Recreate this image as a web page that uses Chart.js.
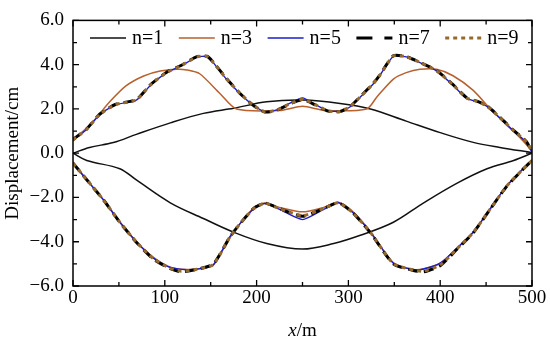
<!DOCTYPE html>
<html>
<head>
<meta charset="utf-8">
<script src="https://cdn.jsdelivr.net/npm/chart.js@4/dist/chart.umd.min.js"></script>
<style>
  html, body { margin: 0; padding: 0; background: #fff; }
  #wrap { width: 550px; height: 346px; }
</style>
</head>
<body>
<div id="wrap"><canvas id="myChart" width="550" height="346"></canvas></div>
<script>
// ---- data (x in m, displacement in cm) ----
const seriesNames = ['n=1', 'n=3', 'n=5', 'n=7', 'n=9'];

const n1UpperX = [0, 18, 44, 69, 106, 142, 175, 211, 250, 291, 324, 363, 400, 436, 465, 500];
const n1UpperY = [0, 0.26, 0.48, 0.85, 1.37, 1.8, 2.03, 2.32, 2.4, 2.25, 2.0, 1.45, 0.93, 0.49, 0.26, 0.03];
const n1LowerX = [0, 15, 51, 69, 106, 142, 175, 211, 250, 284, 313, 349, 382, 418, 451, 480, 500];
const n1LowerY = [0, -0.33, -0.7, -1.21, -2.24, -2.95, -3.57, -4.08, -4.33, -4.08, -3.71, -3.12, -2.24, -1.36, -0.7, -0.33, 0];

const n3UpperX = [0, 22, 40, 58, 77, 95, 113, 124, 138, 160, 178, 225, 250, 275, 320, 331, 349, 363, 378, 396, 414, 436, 454, 472, 487, 500];
const n3UpperY = [0.55, 1.44, 2.32, 3.05, 3.49, 3.71, 3.79, 3.76, 3.59, 2.7, 2.0, 1.93, 2.12, 1.93, 2.0, 2.54, 3.35, 3.64, 3.79, 3.79, 3.5, 2.84, 2.03, 1.29, 0.7, 0.1];
const n3LowerX = [0, 15, 33, 51, 69, 88, 106, 124, 142, 153, 172, 196, 209, 225, 250, 273, 289, 305, 324, 349, 371, 382, 400, 418, 436, 454, 472, 489, 500];
const n3LowerY = [-0.4, -1.2, -2.1, -3.1, -4.0, -4.72, -5.15, -5.25, -5.2, -5.05, -3.75, -2.5, -2.25, -2.45, -2.65, -2.45, -2.22, -2.65, -3.55, -4.95, -5.25, -5.22, -4.97, -4.3, -3.57, -2.54, -1.5, -0.76, -0.3];

const n5UpperX = [0, 15, 29, 46, 69, 84, 102, 117, 135, 146, 153, 167, 182, 196, 209, 222, 236, 250, 264, 278, 291, 302, 313, 327, 334, 349, 363, 378, 396, 414, 429, 440, 451, 465, 480, 494, 500];
const n5UpperY = [0.6, 1.08, 1.74, 2.18, 2.4, 3.05, 3.64, 3.93, 4.34, 4.37, 4.08, 3.35, 2.69, 2.18, 1.88, 1.96, 2.25, 2.5, 2.2, 1.92, 1.89, 2.1, 2.54, 3.13, 3.5, 4.38, 4.35, 4.09, 3.72, 3.07, 2.47, 2.33, 2.11, 1.59, 1.0, 0.49, 0.04];
const n5LowerX = [0, 15, 33, 51, 69, 88, 106, 124, 142, 153, 172, 196, 209, 225, 250, 273, 289, 305, 324, 349, 371, 382, 400, 418, 436, 454, 472, 489, 500];
const n5LowerY = [-0.47, -1.21, -2.1, -3.12, -4.0, -4.75, -5.16, -5.26, -5.19, -5.04, -3.7, -2.54, -2.27, -2.54, -3.0, -2.54, -2.24, -2.69, -3.57, -4.97, -5.26, -5.23, -4.97, -4.3, -3.57, -2.54, -1.5, -0.76, -0.33];

const n7UpperX = [0, 15, 29, 46, 69, 84, 102, 117, 135, 146, 153, 167, 182, 196, 209, 222, 236, 250, 264, 278, 291, 302, 313, 327, 334, 349, 363, 378, 396, 414, 429, 440, 451, 465, 480, 494, 500];
const n7UpperY = [0.62, 1.1, 1.76, 2.2, 2.42, 3.08, 3.66, 3.95, 4.36, 4.38, 4.1, 3.38, 2.7, 2.17, 1.86, 1.94, 2.22, 2.42, 2.18, 1.9, 1.88, 2.12, 2.56, 3.15, 3.52, 4.4, 4.36, 4.1, 3.74, 3.1, 2.5, 2.35, 2.14, 1.62, 1.03, 0.52, 0.06];
const n7LowerX = [0, 15, 33, 51, 69, 88, 106, 118, 135, 153, 172, 196, 209, 225, 250, 273, 289, 305, 324, 349, 371, 382, 400, 418, 436, 454, 472, 489, 500];
const n7LowerY = [-0.45, -1.2, -2.1, -3.12, -4.02, -4.8, -5.22, -5.36, -5.25, -5.0, -3.72, -2.52, -2.26, -2.5, -2.85, -2.5, -2.24, -2.7, -3.6, -5.0, -5.3, -5.36, -5.08, -4.35, -3.6, -2.56, -1.52, -0.78, -0.33];

const n9UpperX = [0, 15, 29, 46, 69, 84, 102, 117, 135, 146, 153, 167, 182, 196, 209, 222, 236, 250, 264, 278, 291, 302, 313, 327, 334, 349, 363, 378, 396, 414, 429, 440, 451, 465, 480, 494, 500];
const n9UpperY = [0.6, 1.09, 1.75, 2.19, 2.41, 3.07, 3.65, 3.94, 4.35, 4.37, 4.09, 3.37, 2.7, 2.18, 1.87, 1.95, 2.23, 2.44, 2.19, 1.91, 1.88, 2.11, 2.55, 3.14, 3.51, 4.39, 4.36, 4.1, 3.73, 3.09, 2.49, 2.34, 2.13, 1.61, 1.02, 0.51, 0.05];
const n9LowerX = [0, 15, 33, 51, 69, 88, 106, 118, 135, 153, 172, 196, 209, 225, 250, 273, 289, 305, 324, 349, 371, 382, 400, 418, 436, 454, 472, 489, 500];
const n9LowerY = [-0.46, -1.2, -2.1, -3.12, -4.01, -4.78, -5.2, -5.33, -5.24, -5.02, -3.71, -2.53, -2.26, -2.5, -2.82, -2.5, -2.24, -2.7, -3.58, -4.99, -5.28, -5.33, -5.05, -4.33, -3.58, -2.55, -1.51, -0.77, -0.33];

const yTicks = [-6, -4, -2, 0, 2, 4, 6];
const xTicks = [0, 100, 200, 300, 400, 500];

// ---- styling ----
const SERIES_COLORS = ['#111111', '#b8602e', '#1c1ccc', '#000000', '#93692e'];
const SERIES_WIDTHS = [1.5, 1.5, 1.4, 3, 3];
const SERIES_DASH = [[], [], [], [10, 6], [4, 4]];
const SERIES_TENSION = [0.35, 0.25, 0.2, 0.2, 0.2];
const FONT = "'Liberation Serif', 'Times New Roman', serif";

function toPoints(ux, uy, lx, ly) {
    const pts = ux.map((x, i) => ({ x: x, y: uy[i] }));
    pts.push({ x: 250, y: null });
    lx.forEach((x, i) => pts.push({ x: x, y: ly[i] }));
    return pts;
}

const seriesData = [
    toPoints(n1UpperX, n1UpperY, n1LowerX, n1LowerY),
    toPoints(n3UpperX, n3UpperY, n3LowerX, n3LowerY),
    toPoints(n5UpperX, n5UpperY, n5LowerX, n5LowerY),
    toPoints(n7UpperX, n7UpperY, n7LowerX, n7LowerY),
    toPoints(n9UpperX, n9UpperY, n9LowerX, n9LowerY)
];

function fmtY(v) {
    return v.toFixed(1).replace('-', '\u2212');
}

// frame + inward ticks on all four sides, axis titles, legend
const framePlugin = {
    id: 'frame',
    afterDraw(chart) {
        const ctx = chart.ctx;
        const a = chart.chartArea;
        const xs = chart.scales.x;
        const ys = chart.scales.y;
        ctx.save();
        ctx.strokeStyle = '#000';
        ctx.lineWidth = 1.5;
        ctx.strokeRect(a.left, a.top, a.right - a.left, a.bottom - a.top);

        ctx.lineWidth = 1.3;
        ctx.beginPath();
        for (let v = 0; v <= 500; v += 50) {
            const px = xs.getPixelForValue(v);
            const len = v % 100 === 0 ? 6 : 4;
            ctx.moveTo(px, a.bottom); ctx.lineTo(px, a.bottom - len);
            ctx.moveTo(px, a.top); ctx.lineTo(px, a.top + len);
        }
        for (let v = -6; v <= 6; v += 1) {
            const py = ys.getPixelForValue(v);
            const len = v % 2 === 0 ? 6 : 4;
            ctx.moveTo(a.left, py); ctx.lineTo(a.left + len, py);
            ctx.moveTo(a.right, py); ctx.lineTo(a.right - len, py);
        }
        ctx.stroke();

        // axis titles
        ctx.fillStyle = '#000';
        ctx.textBaseline = 'middle';
        ctx.font = 'italic 19px ' + FONT;
        const w1 = ctx.measureText('x').width;
        ctx.font = '19px ' + FONT;
        const w2 = ctx.measureText('/m').width;
        const cx = (a.left + a.right) / 2;
        let sx = cx - (w1 + w2) / 2;
        ctx.textAlign = 'left';
        ctx.font = 'italic 19px ' + FONT;
        ctx.fillText('x', sx, 331);
        ctx.font = '19px ' + FONT;
        ctx.fillText('/m', sx + w1, 331);

        ctx.save();
        ctx.translate(13, (a.top + a.bottom) / 2);
        ctx.rotate(-Math.PI / 2);
        ctx.textAlign = 'center';
        ctx.fillText('Displacement/cm', 0, 0);
        ctx.restore();

        // legend
        ctx.font = '20px ' + FONT;
        ctx.textAlign = 'left';
        const ly = 38;
        seriesNames.forEach((name, i) => {
            const lx = 90 + i * 88.8;
            ctx.beginPath();
            ctx.strokeStyle = SERIES_COLORS[i];
            ctx.lineWidth = SERIES_WIDTHS[i];
            ctx.setLineDash(i === 3 ? [16, 12] : SERIES_DASH[i]);
            ctx.moveTo(lx, ly);
            ctx.lineTo(lx + 36, ly);
            ctx.stroke();
            ctx.setLineDash([]);
            ctx.fillStyle = '#000';
            ctx.fillText(name, lx + 42, ly + 1);
        });
        ctx.restore();
    }
};

function drawChart() {
    const ctx = document.getElementById('myChart').getContext('2d');
    const datasets = seriesNames.map((name, i) => ({
        label: name,
        data: seriesData[i],
        borderColor: SERIES_COLORS[i],
        borderWidth: SERIES_WIDTHS[i],
        borderDash: SERIES_DASH[i],
        tension: SERIES_TENSION[i],
        pointRadius: 0,
        spanGaps: false,
        fill: false,
        order: seriesNames.length - i
    }));

    new Chart(ctx, {
        type: 'line',
        data: { datasets: datasets },
        plugins: [framePlugin],
        options: {
            responsive: false,
            animation: false,
            devicePixelRatio: 1,
            layout: { padding: { top: 13, right: 18, left: 0, bottom: 0 } },
            plugins: {
                legend: { display: false },
                tooltip: { enabled: false }
            },
            scales: {
                x: {
                    type: 'linear',
                    min: 0,
                    max: 500,
                    afterBuildTicks: (s) => { s.ticks = xTicks.map(v => ({ value: v })); },
                    afterFit: (s) => { s.height = 60; },
                    grid: { display: false, drawTicks: false },
                    border: { display: false },
                    ticks: {
                        color: '#000',
                        padding: 1,
                        maxRotation: 0,
                        font: { family: FONT, size: 19 }
                    }
                },
                y: {
                    min: -6,
                    max: 6,
                    afterBuildTicks: (s) => { s.ticks = yTicks.map(v => ({ value: v })); },
                    afterFit: (s) => { s.width = 73; },
                    grid: { display: false, drawTicks: false },
                    border: { display: false },
                    ticks: {
                        color: '#000',
                        padding: 9,
                        font: { family: FONT, size: 19 },
                        callback: (v) => fmtY(v)
                    }
                }
            }
        }
    });
}

drawChart();
</script>
</body>
</html>
